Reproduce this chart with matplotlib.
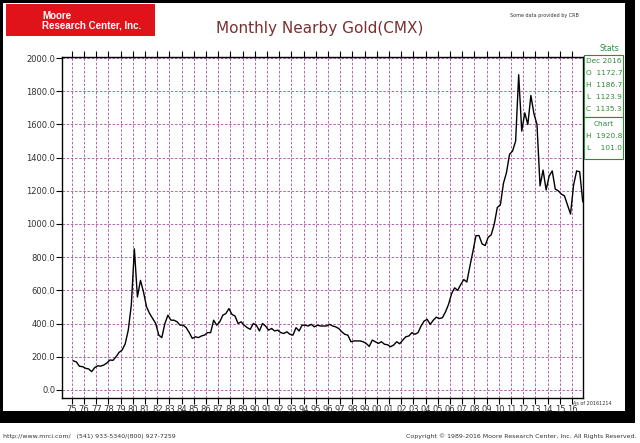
import numpy as np
import matplotlib
matplotlib.use("Agg")
import matplotlib.pyplot as plt
from matplotlib.patches import Rectangle

# quarterly gold nearby prices (approx)
years = list(range(1975, 2017))
prices = [
    175, 168, 142, 140,  130, 126, 110, 134,  145, 143, 150, 162,  180, 178, 200, 226,
    240, 278, 360, 512,  850, 560, 660, 590,  500, 460, 430, 400,  330, 315, 400, 450,
    420, 420, 410, 390,  390, 375, 345, 310,  320, 315, 325, 330,  345, 345, 420, 390,
    410, 450, 460, 490,  455, 445, 400, 410,  390, 375, 365, 400,  390, 355, 400, 385,
    360, 370, 355, 360,  345, 340, 350, 335,  330, 375, 355, 390,  390, 385, 395, 380,
    390, 385, 385, 385,  395, 385, 380, 370,  350, 335, 330, 290,  295, 295, 295, 290,
    280, 262, 300, 290,  280, 290, 275, 272,  260, 270, 290, 278,  300, 320, 325, 345,
    335, 345, 385, 415,  425, 395, 420, 438,  430, 435, 470, 515,  580, 615, 600, 635,
    665, 650, 745, 835,  930, 930, 880, 870,  920, 935, 1000, 1100, 1115, 1245, 1310, 1420,
    1440, 1500, 1900, 1560, 1670, 1600, 1775, 1665, 1600, 1230, 1325, 1205, 1290, 1320, 1210, 1200,
    1180, 1170, 1115, 1060, 1235, 1320, 1315, 1135,
]
tick_labels = [f"{y % 100:02d}" for y in years]
stats = ["Dec 2016", "O  1172.7", "H  1186.7", "L  1123.9", "C  1135.3"]
chart_stats = ["Chart", "H  1920.8", "L    101.0"]

t = [y + q * 0.25 + 0.125 for y in years for q in range(4)][:len(prices)]

fig = plt.figure(figsize=(6.4, 4.43), dpi=100)
fig.patch.set_facecolor("white")

# black shadow frame: thin at top/left, thick at right/bottom
fig.add_artist(Rectangle((0.0, 0.045), 0.992, 0.955, transform=fig.transFigure,
                         facecolor="black", edgecolor="none", zorder=-2))
fig.add_artist(Rectangle((0.004, 0.072), 0.972, 0.922, transform=fig.transFigure,
                         facecolor="white", edgecolor="none", zorder=-1))

ax = fig.add_axes([0.097, 0.102, 0.814, 0.769])
ax.plot(t, prices, color="black", lw=1.0)
ax.set_xlim(1974.2, 2016.9)
ax.set_ylim(-48, 2006)
ax.set_xticks(years)
ax.set_xticklabels(tick_labels, fontsize=6, color="#333333")
ax.set_yticks(np.arange(0, 2001, 200))
ax.set_yticklabels([f"{v:.1f}" for v in np.arange(0, 2001, 200)], fontsize=6, color="#333333")
ax.tick_params(axis="x", top=True, length=4, pad=1)
ax.tick_params(axis="y", length=4, pad=1)
ax.grid(True, color="#a64ca6", linestyle=(0, (3, 2)), lw=0.6)
for s in ax.spines.values():
    s.set_linewidth(1.0)

fig.text(0.5, 0.925, "Monthly Nearby Gold(CMX)", ha="center", fontsize=11, color="#7a3030")
fig.text(0.905, 0.962, "Some data provided by CRB", ha="right", fontsize=3.5, color="#333333")

# logo
fig.add_artist(Rectangle((0.01, 0.918), 0.232, 0.072, transform=fig.transFigure,
                         facecolor="#e0121a", edgecolor="none"))
fig.text(0.066, 0.954, "Moore\nResearch Center, Inc.", ha="left", va="center",
         fontsize=7, color="white", fontweight="bold", linespacing=0.95,
         family=["Liberation Sans", "DejaVu Sans"])

# stats panel
green = "#2e8b3a"
fig.text(0.952, 0.885, "Stats", ha="center", fontsize=5.5, color=green)
fig.add_artist(Rectangle((0.913, 0.735), 0.06, 0.14, transform=fig.transFigure,
                         facecolor="white", edgecolor=green, lw=0.8))
for i, s in enumerate(stats):
    fig.text(0.944, 0.862 - i * 0.027, s, ha="center", va="center", fontsize=5.3, color=green)
fig.add_artist(Rectangle((0.913, 0.64), 0.06, 0.095, transform=fig.transFigure,
                         facecolor="white", edgecolor=green, lw=0.8))
for i, s in enumerate(chart_stats):
    fig.text(0.944, 0.72 - i * 0.027, s, ha="center", va="center", fontsize=5.3, color=green)

fig.text(0.955, 0.085, "As of 20161214", ha="right", fontsize=3.5, color="#333333")
fig.text(0.005, 0.012, "http://www.mrci.com/   (541) 933-5340/(800) 927-7259", fontsize=4.5, color="#333333")
fig.text(0.995, 0.012, "Copyright \u00a9 1989-2016 Moore Research Center, Inc. All Rights Reserved.",
         ha="right", fontsize=4.5, color="#333333")

fig.savefig("out.png", dpi=100)
